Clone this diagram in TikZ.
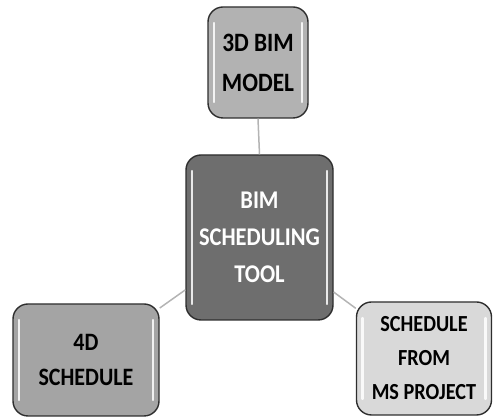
\documentclass[tikz,border=0pt]{standalone}
\usepackage{fontspec}
\setmainfont{Carlito}
\newfontfamily\boxfont[FakeStretch=0.88]{Carlito}
\usepackage{xcolor}
\usepackage{tikz}
\usetikzlibrary{calc}

\definecolor{toolgray}{HTML}{6E6E6E}
\definecolor{modelgray}{HTML}{B2B2B2}
\definecolor{fourdgray}{HTML}{A4A4A4}
\definecolor{msgray}{HTML}{D9D9D9}
\definecolor{edgegray}{HTML}{2E2E2E}
\definecolor{linkgray}{HTML}{B4B4B4}

\begin{document}
\begin{tikzpicture}[x=1pt,y=1pt,
  box/.style={draw=edgegray,line width=1.4pt,rounded corners=15pt,align=center,inner sep=0pt,
    path picture={
      \draw[white,line width=2.2pt,line cap=round,opacity=0.85]
        ($(path picture bounding box.north west)+(6,-16)$) -- ($(path picture bounding box.south west)+(6,16)$);
      \draw[white,line width=2.2pt,line cap=round,opacity=0.85]
        ($(path picture bounding box.north east)+(-6,-16)$) -- ($(path picture bounding box.south east)+(-6,16)$);
    }},
  link/.style={draw=linkgray,line width=1.5pt}]
\useasboundingbox (0,0) rectangle (493,417);

% boxes
\node[box,fill=toolgray,text=white,minimum width=147,minimum height=165,
  font=\boxfont\fontsize{25.5}{37}\selectfont\bfseries] (tool) at (259.5,179.5) {BIM\\SCHEDULING\\TOOL};
\node[box,fill=modelgray,minimum width=100,minimum height=111,
  font=\boxfont\fontsize{26.5}{40}\selectfont\bfseries] (model) at (258,354.5) {3D BIM\\MODEL};
\node[box,fill=fourdgray,minimum width=146,minimum height=112,
  font=\boxfont\fontsize{25}{35}\selectfont\bfseries] (fourd) at (86,57) {4D\\SCHEDULE};
\node[box,fill=msgray,minimum width=135,minimum height=113,
  font=\boxfont\fontsize{23}{34}\selectfont\bfseries] (msproj) at (424,58.5) {SCHEDULE\\FROM\\MS PROJECT};

% links
\draw[link] (model.south) -- (tool.north);
\draw[link] (tool) -- (fourd);
\draw[link] (tool) -- (msproj);
\end{tikzpicture}
\end{document}
